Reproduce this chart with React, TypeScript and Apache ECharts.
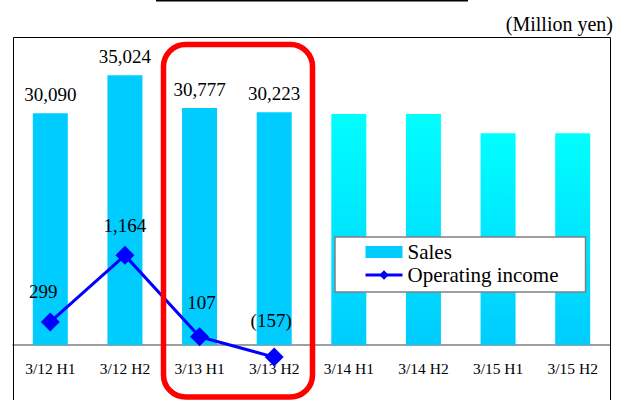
import React, { useEffect, useRef } from "react";
import * as echarts from "echarts";

const categories = ["3/12 H1", "3/12 H2", "3/13 H1", "3/13 H2", "3/14 H1", "3/14 H2", "3/15 H1", "3/15 H2"];
const salesValues = [30090, 35024, 30777, 30223, 30000, 30000, 27500, 27500];
const forecastFlags = [false, false, false, false, true, true, true, true];
const opIncome: (number | null)[] = [299, 1164, 107, -157, null, null, null, null];
const opLabelOffsets = [[-7, -30], [0, -30], [2, -34], [-3, -37]];
const unitLabel = "(Million yen)";
const seriesNames = ["Sales", "Operating income"];

const FONT = '"Liberation Serif", "Times New Roman", serif';

export default function App() {
  const ref = useRef<HTMLDivElement>(null);
  useEffect(() => {
    if (!ref.current) return;
    const chart = echarts.init(ref.current, null, { renderer: "svg" });
    const gradient = new echarts.graphic.LinearGradient(0, 0, 0, 1, [
      { offset: 0, color: "#00FFFF" },
      { offset: 1, color: "#00CCFF" },
    ]);
    const barData = salesValues.map((v, i) =>
      forecastFlags[i]
        ? { value: v, itemStyle: { color: gradient }, label: { show: false } }
        : { value: v }
    );
    const lineData = opIncome.map((v, i) =>
      v === null
        ? null
        : { value: v, label: { offset: opLabelOffsets[i] } }
    );
    chart.setOption({
      animation: false,
      backgroundColor: "#fff",
      textStyle: { fontFamily: FONT },
      grid: {
        left: 13,
        top: 37,
        width: 597,
        height: 308,
        outerBoundsMode: "none",
        containLabel: false,
        show: false,
      },
      legend: {
        left: 335,
        top: 237,
        orient: "vertical",
        backgroundColor: "#fff",
        borderColor: "#808080",
        borderWidth: 1.5,
        padding: [4, 27, 6, 29],
        itemWidth: 37,
        itemHeight: 12,
        itemGap: 1,
        lineStyle: { width: 3 },
        textStyle: { fontSize: 21, lineHeight: 22, color: "#000", fontFamily: FONT },
        data: [{ name: seriesNames[0], icon: "rect" }, { name: seriesNames[1] }],
      },
      xAxis: {
        type: "category",
        data: categories,
        axisLine: { onZero: false, lineStyle: { color: "#808080", width: 1.5 } },
        axisTick: { inside: true, length: 5, lineStyle: { color: "#808080", width: 1 } },
        axisLabel: { interval: 0, margin: 15, fontSize: 15.5, color: "#000", fontFamily: FONT },
        splitLine: { show: false },
      },
      yAxis: [
        { type: "value", min: 0, max: 40000, show: false, splitLine: { show: false } },
        { type: "value", min: 0, max: 4000, show: false, splitLine: { show: false } },
      ],
      series: [
        {
          name: seriesNames[0],
          type: "bar",
          barWidth: 35,
          itemStyle: { color: "#00CCFF" },
          data: barData,
          label: {
            show: true,
            position: "top",
            distance: 9,
            fontSize: 19,
            lineHeight: 19,
            color: "#000",
            fontFamily: FONT,
            formatter: (p: any) => Number(p.value).toLocaleString("en-US"),
          },
          z: 2,
        },
        {
          name: seriesNames[1],
          type: "line",
          yAxisIndex: 1,
          data: lineData,
          clip: false,
          symbol: "diamond",
          symbolSize: 19,
          color: "#0000FF",
          lineStyle: { color: "#0000FF", width: 3 },
          itemStyle: { color: "#0000FF" },
          label: {
            show: true,
            position: "inside",
            fontSize: 19,
            lineHeight: 19,
            color: "#000",
            fontFamily: FONT,
            formatter: (p: any) => {
              const v = Number(p.value);
              return v < 0 ? "(" + Math.abs(v).toLocaleString("en-US") + ")" : v.toLocaleString("en-US");
            },
          },
          z: 3,
        },
      ],
      graphic: [
        {
          type: "polyline",
          shape: { points: [[13.5, 402], [13.5, 37.5], [610.5, 37.5], [610.5, 402]] },
          style: { stroke: "#000", lineWidth: 1, fill: "none" },
          z: 1,
        },
        {
          type: "line",
          shape: { x1: 156, y1: 0.5, x2: 468, y2: 0.5 },
          style: { stroke: "#000", lineWidth: 2 },
          z: 100,
        },
        {
          type: "text",
          x: 613,
          y: 24,
          style: {
            text: unitLabel,
            fontSize: 20,
            fontFamily: FONT,
            fill: "#000",
            align: "right",
            verticalAlign: "middle",
          },
          z: 100,
        },
        {
          type: "rect",
          shape: { x: 163.5, y: 44.5, width: 149, height: 352.5, r: 22 },
          style: { fill: "none", stroke: "#FF0000", lineWidth: 5.5 },
          z: 100,
        },
      ],
    });
    return () => chart.dispose();
  }, []);
  return (
    <div
      ref={ref}
      style={{ position: "absolute", left: 0, top: 0, width: 624, height: 400 }}
    />
  );
}
